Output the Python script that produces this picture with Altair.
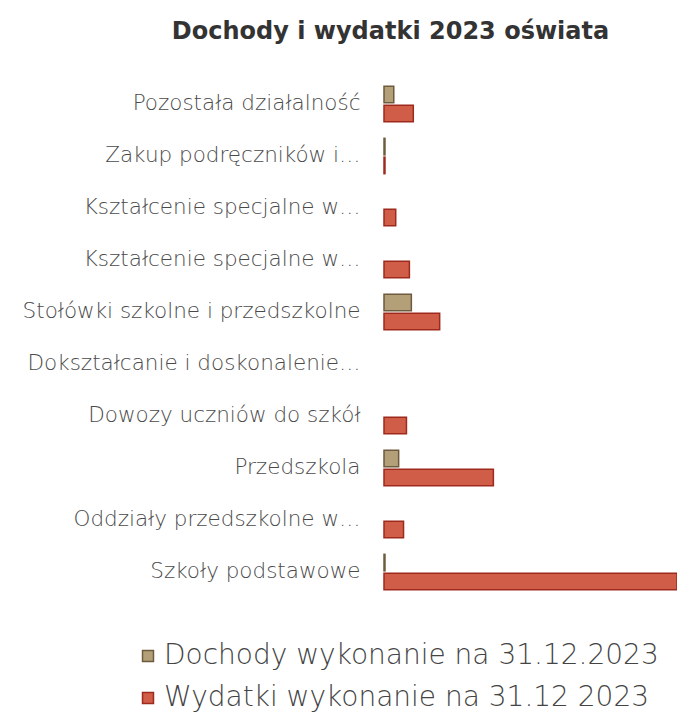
import altair as alt
import pandas as pd
import json

categories = [
    "Pozostała działalność",
    "Zakup podręczników i materiałów",
    "Kształcenie specjalne w przedszkolach",
    "Kształcenie specjalne w szkołach",
    "Stołówki szkolne i przedszkolne",
    "Dokształcanie i doskonalenie nauczycieli",
    "Dowozy uczniów do szkół",
    "Przedszkola",
    "Oddziały przedszkolne w szkołach",
    "Szkoły podstawowe",
]
display_labels = [
    "Pozostała działalność",
    "Zakup podręczników i…",
    "Kształcenie specjalne w…",
    "Kształcenie specjalne w…",
    "Stołówki szkolne i przedszkolne",
    "Dokształcanie i doskonalenie…",
    "Dowozy uczniów do szkół",
    "Przedszkola",
    "Oddziały przedszkolne w…",
    "Szkoły podstawowe",
]
series = ["Dochody wykonanie na 31.12.2023", "Wydatki wykonanie na 31.12 2023"]
dochody = [1.0, 0.1, 0.0, 0.0, 2.8, 0.0, 0.0, 1.5, 0.0, 0.1]
wydatki = [3.0, 0.1, 1.2, 2.6, 5.7, 0.0, 2.3, 11.2, 2.0, 30.0]

rows = []
for c, d, w in zip(categories, dochody, wydatki):
    rows.append({"kategoria": c, "seria": series[0], "wartosc": d})
    rows.append({"kategoria": c, "seria": series[1], "wartosc": w})
df = pd.DataFrame(rows)

label_map = json.dumps(dict(zip(categories, display_labels)), ensure_ascii=False)

FONT = "DejaVu Sans"

chart = alt.Chart(df).transform_filter(
    "datum.wartosc > 0"
).mark_bar(strokeWidth=1.5).encode(
    y=alt.Y("kategoria:N", sort=categories, title=None,
            scale=alt.Scale(domain=categories, paddingInner=0.32, paddingOuter=0.16),
            axis=alt.Axis(domain=False, ticks=False, labelPadding=24,
                          labelFont=FONT, labelFontSize=21.5, labelFontWeight=200,
                          labelColor="#4a4a4a", labelLimit=400,
                          labelExpr=f"{label_map}[datum.value]")),
    yOffset=alt.YOffset("seria:N", sort=series,
                        scale=alt.Scale(domain=series, paddingInner=0.12)),
    x=alt.X("wartosc:Q", title=None, axis=None,
            scale=alt.Scale(domain=[0, 30], nice=False, zero=True)),
    color=alt.Color("seria:N", sort=series,
                    scale=alt.Scale(domain=series, range=["#b3a079", "#cf5d47"]),
                    legend=alt.Legend(title=None, orient="none", legendX=-250, legendY=564,
                                      direction="vertical", symbolType="square",
                                      symbolSize=120, symbolStrokeWidth=1.5,
                                      labelFont=FONT, labelFontSize=28, labelFontWeight=200,
                                      labelColor="#444444", rowPadding=14, labelLimit=600,
                                      labelOffset=2)),
    stroke=alt.Stroke("seria:N", sort=series,
                      scale=alt.Scale(domain=series, range=["#6e5a3c", "#9e2a1e"]),
                      legend=None),
).properties(
    width=293,
    height=520,
    autosize=alt.AutoSizeParams(type="none"),
    padding={"left": 376, "top": 70, "right": 0, "bottom": 115},
    title=alt.TitleParams("Dochody i wydatki 2023 oświata", font=FONT, fontSize=24,
                          fontWeight="bold", color="#333333", anchor="middle",
                          dx=-140, offset=34),
).configure_view(stroke=None)

chart.save("out.html", embed_options={"renderer": "svg", "actions": False})
